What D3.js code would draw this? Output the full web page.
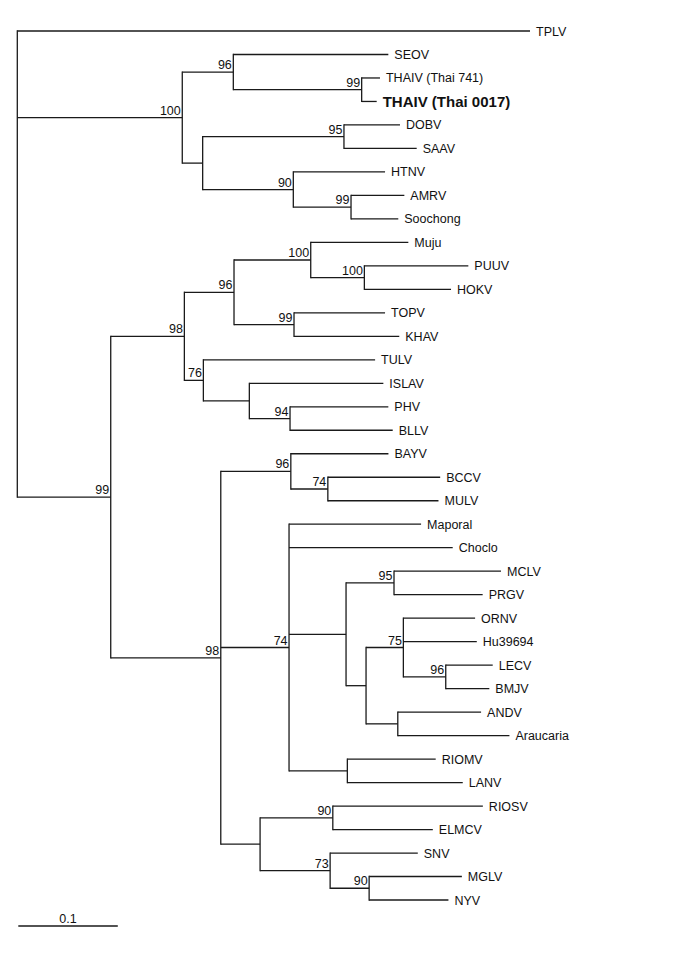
<!DOCTYPE html>
<html><head><meta charset="utf-8">
<script src="https://cdn.jsdelivr.net/npm/d3@7/dist/d3.min.js"></script>
<style>body{margin:0;background:#fff}svg{display:block}</style>
</head><body>
<svg id="c" width="685" height="980"></svg>
<script>
const nodeIds = ["root","TPLV","A","A1","SEOV","THAI","THAIV (Thai 741)","THAIV (Thai 0017)","A2","DS","DOBV","SAAV","H","HTNV","AS","AMRV","Soochong",
 "B","B1","B1a","MPH","Muju","PH","PUUV","HOKV","TK","TOPV","KHAV","B1b","TULV","IPB","ISLAV","PB","PHV","BLLV",
 "B2","BAY","BAYV","BM","BCCV","MULV","N74","Maporal","Choclo","S346","MP","MCLV","PRGV","S366","N75","ORNV","Hu39694","LB","LECV","BMJV","AA","ANDV","Araucaria","RL","RIOMV","LANV",
 "SN","RE","RIOSV","ELMCV","N73","SNV","MN","MGLV","NYV"];
const parentIds = ["","root","root","A","A1","A1","THAI","THAI","A","A2","DS","DS","A2","H","H","AS","AS",
 "root","B","B1","B1a","MPH","MPH","PH","PH","B1a","TK","TK","B1","B1b","B1b","IPB","IPB","PB","PB",
 "B","B2","BAY","BAY","BM","BM","B2","N74","N74","N74","S346","MP","MP","S346","S366","N75","N75","N75","LB","LB","S366","AA","AA","N74","RL","RL",
 "B2","SN","RE","RE","SN","N73","N73","MN","MN"];
const branchLengths = [0,0.5153,0.1658,0.0513,0.1558,0.1290,0.0184,0.0151,0.0205,0.1420,0.0563,0.0731,0.0911,0.0922,0.0580,0.0536,0.0475,
 0.0939,0.0740,0.0499,0.0771,0.0981,0.0539,0.1045,0.0871,0.0603,0.0915,0.1058,0.0191,0.1726,0.0462,0.1347,0.0409,0.0988,0.1032,
 0.1106,0.0704,0.0981,0.0372,0.1129,0.1112,0.0686,0.1327,0.1645,0.0573,0.0482,0.1075,0.0891,0.0201,0.0375,0.0721,0.0738,0.0426,0.0472,0.0438,0.0319,0.0837,0.1122,0.0586,0.0888,0.1160,
 0.0395,0.0731,0.1508,0.1005,0.0704,0.0881,0.0392,0.0932,0.0797];
const bootstrap = [null,null,100,96,null,99,null,null,null,95,null,null,90,null,99,null,null,
 99,98,96,100,null,100,null,null,99,null,null,76,null,null,null,94,null,null,
 98,96,null,74,null,null,74,null,null,null,95,null,null,null,75,null,null,96,null,null,null,null,null,null,null,null,
 null,90,null,null,73,null,90,null,null];
const boldLeaves = ["THAIV (Thai 0017)"];
const scaleBarValue = 0.1;

const rows = nodeIds.map((id,i)=>({id, parent: parentIds[i]||null, len: branchLengths[i], bs: bootstrap[i]}));
const root = d3.stratify().id(d=>d.id).parentId(d=>d.parent)(rows);
root.eachBefore(n=>{ n.dist = n.parent ? n.parent.dist + n.data.len : 0; });

const leaves = root.leaves();
const x = d3.scaleLinear().domain([0,0.5]).range([17.3, 514.8]);
const y = d3.scalePoint().domain(leaves.map(d=>d.id)).range([31, 900]);
root.eachAfter(n=>{
  if(!n.children) n.py = y(n.id);
  else n.py = (n.children[0].py + n.children[n.children.length-1].py)/2;
});

const svg = d3.select("#c");
const g = svg.append("g");
const stroke = "#1a1a1a", sw = 1.3;

// horizontal branches
g.selectAll("line.h").data(root.descendants().filter(d=>d.parent)).join("line")
  .attr("x1", d=>x(d.parent.dist)).attr("x2", d=>x(d.dist))
  .attr("y1", d=>d.py).attr("y2", d=>d.py)
  .attr("stroke", stroke).attr("stroke-width", sw);
// vertical connectors
g.selectAll("line.v").data(root.descendants().filter(d=>d.children)).join("line")
  .attr("x1", d=>x(d.dist)).attr("x2", d=>x(d.dist))
  .attr("y1", d=>d.children[0].py - sw/2).attr("y2", d=>d.children[d.children.length-1].py + sw/2)
  .attr("stroke", stroke).attr("stroke-width", sw);

// leaf labels
g.selectAll("text.leaf").data(leaves).join("text")
  .attr("x", d=>x(d.dist)+6).attr("y", d=>d.py).attr("dy","0.36em")
  .attr("font-family","Liberation Sans, Arial, sans-serif")
  .attr("font-size", d=>boldLeaves.includes(d.id)?15:12.5)
  .attr("font-weight", d=>boldLeaves.includes(d.id)?"bold":"normal")
  .attr("fill","#111")
  .text(d=>d.id);

// bootstrap labels
g.selectAll("text.bs").data(root.descendants().filter(d=>d.data.bs!=null)).join("text")
  .attr("x", d=>x(d.dist)-1.5).attr("y", d=>d.py-3)
  .attr("text-anchor","end")
  .attr("font-family","Liberation Sans, Arial, sans-serif")
  .attr("font-size",12.5).attr("fill","#111")
  .text(d=>d.data.bs);

// scale bar
const sb0 = 18.3, sb1 = sb0 + (x(scaleBarValue)-x(0));
svg.append("line").attr("x1",sb0).attr("x2",sb1).attr("y1",926).attr("y2",926)
  .attr("stroke",stroke).attr("stroke-width",sw);
svg.append("text").attr("x",(sb0+sb1)/2).attr("y",922.5).attr("text-anchor","middle")
  .attr("font-family","Liberation Sans, Arial, sans-serif").attr("font-size",12.5).attr("fill","#111")
  .text(scaleBarValue);
</script>
</body></html>
